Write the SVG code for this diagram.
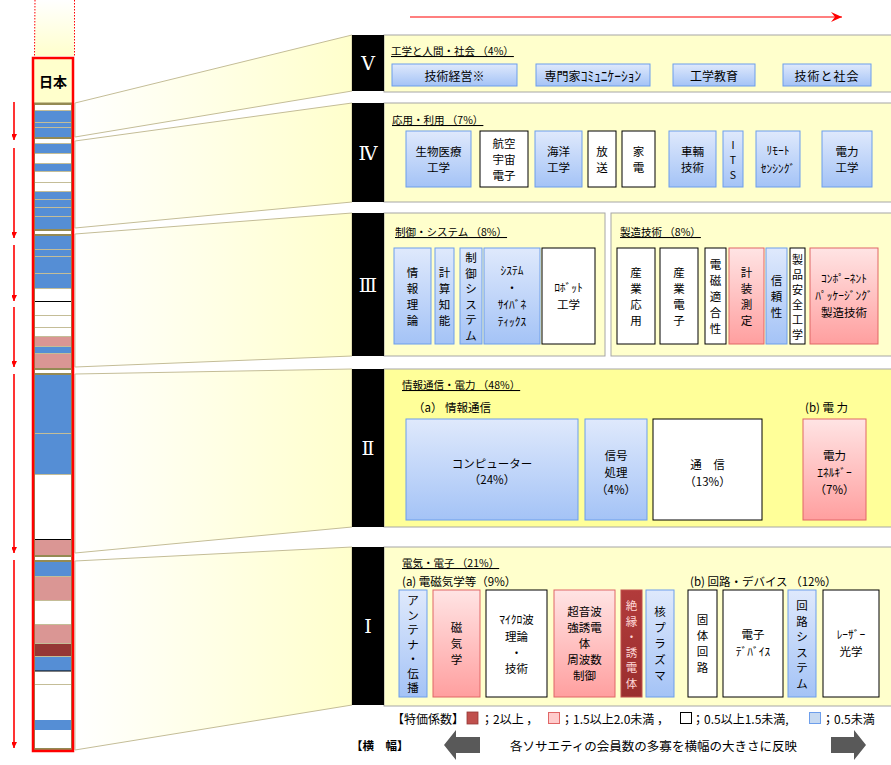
<svg xmlns="http://www.w3.org/2000/svg" width="891" height="765" viewBox="0 0 891 765">
<style>
.t{font-family:"Noto Sans CJK JP","Noto Sans CJK SC",sans-serif;font-size:11.5px;fill:#000}
.c{text-anchor:middle;dominant-baseline:central}
.m{dominant-baseline:central}
.h{font-size:11.5px}
.ttl{font-size:10.5px;text-decoration:underline}
.bb{fill:url(#gBlue);stroke:#6d9eeb;stroke-width:1}
.bp{fill:url(#gPink);stroke:#e06666;stroke-width:1}
.bw{fill:#fff;stroke:#000;stroke-width:1}
.br{fill:url(#gRed);stroke:#c0504d;stroke-width:1}
.panel{fill:#ffffcc;stroke:#a6a6a6;stroke-width:1}
.panel2{fill:#ffff99;stroke:#a6a6a6;stroke-width:1}
.blk{fill:#000}
.rn{fill:#fff;font-family:"DejaVu Serif","Noto Sans CJK JP",serif;font-size:19px;text-anchor:middle;dominant-baseline:central}
.trap{fill:url(#gTrap);stroke:#c4bd97;stroke-width:1}
.arr{stroke:#ff0000;stroke-width:1.6;fill:none;marker-end:url(#ah)}
.sb{fill:#558ed5}
.sp{fill:#da9694}
.sr{fill:#953735}
.lt{stroke:#c4bd97;stroke-width:1.2}
.lo{stroke:#948a54;stroke-width:2}
.lk{stroke:#000;stroke-width:1}
.gar{fill:#595959}
</style>
<defs>
<linearGradient id="gBlue" x1="0" y1="0" x2="0" y2="1"><stop offset="0" stop-color="#dfe9fc"/><stop offset="1" stop-color="#a4c3f6"/></linearGradient>
<linearGradient id="gPink" x1="0" y1="0" x2="0" y2="1"><stop offset="0" stop-color="#ffe4e4"/><stop offset="1" stop-color="#ff9f9f"/></linearGradient>
<linearGradient id="gRed" x1="0" y1="0" x2="0" y2="1"><stop offset="0" stop-color="#b23b3b"/><stop offset="1" stop-color="#9a2e2e"/></linearGradient>
<linearGradient id="gTrap" x1="0" y1="0" x2="1" y2="0"><stop offset="0" stop-color="#ffffff"/><stop offset="1" stop-color="#ffffcc"/></linearGradient>
<linearGradient id="gTop" x1="0" y1="0" x2="0" y2="1"><stop offset="0" stop-color="#ffffff"/><stop offset="1" stop-color="#ffffcc"/></linearGradient>
<marker id="ah" viewBox="-6 -10 12 12" markerWidth="12" markerHeight="12" refX="0" refY="0" orient="auto" markerUnits="userSpaceOnUse"><path d="M-10,-5 L0,0 L-10,5 L-6,0 z" fill="#ff0000"/></marker>
<marker id="ah2" viewBox="-12 -6 13 12" markerWidth="13" markerHeight="12" refX="0" refY="0" orient="auto" markerUnits="userSpaceOnUse"><path d="M-11,-5 L0,0 L-11,5 L-7,0 z" fill="#ff0000"/></marker>
</defs>
<rect width="891" height="765" fill="#fff"/>

<!-- top arrow -->
<line x1="410" y1="17" x2="842" y2="17" stroke="#ff0000" stroke-width="1.2" marker-end="url(#ah2)"/>

<!-- top dotted band -->
<rect x="35" y="0" width="39" height="56" fill="url(#gTop)"/>
<line x1="35" y1="0" x2="34.5" y2="56" stroke="#ff0000" stroke-width="1" stroke-dasharray="1.5,1.5"/>
<line x1="74.5" y1="0" x2="74.5" y2="56" stroke="#ff0000" stroke-width="1" stroke-dasharray="1.5,1.5"/>

<g id="connectors">
<polygon class="trap" points="75,103 352,35 352,91 75,137"/>
<polygon class="trap" points="75,141 352,103 352,202 75,228"/>
<polygon class="trap" points="75,234 352,213 352,356 75,367"/>
<polygon class="trap" points="75,374 352,369 352,527 75,553"/>
<polygon class="trap" points="75,561 352,547 352,705 75,750"/>
<line class="arr" x1="14" y1="102" x2="14" y2="140"/>
<line class="arr" x1="14" y1="148" x2="14" y2="238"/>
<line class="arr" x1="14" y1="245" x2="14" y2="301"/>
<line class="arr" x1="14" y1="307" x2="14" y2="367"/>
<line class="arr" x1="14" y1="374" x2="14" y2="553"/>
<line class="arr" x1="14" y1="560" x2="14" y2="748"/>
</g>

<!-- left column -->
<g id="japan-column">
<rect x="34" y="58" width="38" height="45" fill="#ffffcc"/>
<text class="t c" x="53" y="81" style="font-size:14px;font-weight:bold">日本</text>
<rect x="34" y="103" width="38" height="647" fill="#fff"/>
<rect class="sb" x="34" y="111" width="38" height="26"/>
<rect class="sb" x="34" y="144" width="38" height="10"/>
<rect class="sb" x="34" y="164" width="38" height="8"/>
<rect class="sb" x="34" y="192" width="38" height="37"/>
<rect class="sb" x="34" y="236" width="38" height="53"/>
<rect class="sp" x="34" y="337" width="38" height="10"/>
<rect class="sb" x="34" y="347" width="38" height="7"/>
<rect class="sp" x="34" y="354" width="38" height="14"/>
<rect class="sb" x="34" y="375" width="38" height="100"/>
<rect class="sp" x="34" y="540" width="38" height="15"/>
<rect class="sb" x="34" y="562" width="38" height="15"/>
<rect class="sp" x="34" y="577" width="38" height="24"/>
<rect class="sp" x="34" y="625" width="38" height="19"/>
<rect class="sr" x="34" y="644" width="38" height="13"/>
<rect class="sb" x="34" y="657" width="38" height="14"/>
<rect class="sb" x="34" y="720" width="38" height="10"/>
<g>
<line class="lo" x1="34" y1="104" x2="72" y2="104"/>
<line class="lt" x1="34" y1="110.5" x2="72" y2="110.5"/>
<line class="lt" x1="34" y1="122.5" x2="72" y2="122.5"/>
<line class="lt" x1="34" y1="127.5" x2="72" y2="127.5"/>
<line class="lo" x1="34" y1="138" x2="72" y2="138"/>
<line class="lt" x1="34" y1="143.5" x2="72" y2="143.5"/>
<line class="lt" x1="34" y1="153.5" x2="72" y2="153.5"/>
<line class="lt" x1="34" y1="163.5" x2="72" y2="163.5"/>
<line class="lt" x1="34" y1="171.5" x2="72" y2="171.5"/>
<line class="lt" x1="34" y1="182.5" x2="72" y2="182.5"/>
<line class="lt" x1="34" y1="191.5" x2="72" y2="191.5"/>
<line class="lt" x1="34" y1="199.5" x2="72" y2="199.5"/>
<line class="lt" x1="34" y1="207.5" x2="72" y2="207.5"/>
<line class="lt" x1="34" y1="216.5" x2="72" y2="216.5"/>
<line class="lo" x1="34" y1="230" x2="72" y2="230"/>
<line class="lo" x1="34" y1="235" x2="72" y2="235"/>
<line class="lt" x1="34" y1="249.5" x2="72" y2="249.5"/>
<line class="lt" x1="34" y1="256.5" x2="72" y2="256.5"/>
<line class="lt" x1="34" y1="273.5" x2="72" y2="273.5"/>
<line class="lt" x1="34" y1="288.5" x2="72" y2="288.5"/>
<line class="lk" x1="34" y1="301.5" x2="72" y2="301.5"/>
<line class="lt" x1="34" y1="315.5" x2="72" y2="315.5"/>
<line class="lt" x1="34" y1="327.5" x2="72" y2="327.5"/>
<line class="lt" x1="34" y1="336.5" x2="72" y2="336.5"/>
<line class="lt" x1="34" y1="346.5" x2="72" y2="346.5"/>
<line class="lt" x1="34" y1="353.5" x2="72" y2="353.5"/>
<line class="lo" x1="34" y1="369" x2="72" y2="369"/>
<line class="lo" x1="34" y1="374" x2="72" y2="374"/>
<line class="lt" x1="34" y1="433.5" x2="72" y2="433.5"/>
<line class="lt" x1="34" y1="474.5" x2="72" y2="474.5"/>
<line class="lk" x1="34" y1="539.5" x2="72" y2="539.5"/>
<line class="lo" x1="34" y1="556" x2="72" y2="556"/>
<line class="lo" x1="34" y1="561" x2="72" y2="561"/>
<line class="lt" x1="34" y1="576.5" x2="72" y2="576.5"/>
<line class="lt" x1="34" y1="600.5" x2="72" y2="600.5"/>
<line class="lt" x1="34" y1="624.5" x2="72" y2="624.5"/>
<line class="lt" x1="34" y1="643.5" x2="72" y2="643.5"/>
<line class="lt" x1="34" y1="656.5" x2="72" y2="656.5"/>
<line class="lk" x1="34" y1="671" x2="72" y2="671"/>
<line class="lt" x1="34" y1="684.5" x2="72" y2="684.5"/>
<line class="lo" x1="34" y1="749" x2="72" y2="749"/>
</g>
<rect x="34.5" y="103" width="37" height="647" fill="none" stroke="#948a54" stroke-width="1"/>
<rect x="33" y="58" width="40" height="693" fill="none" stroke="#ff0000" stroke-width="2.5"/>
</g>

<!-- Section V -->
<g id="sec-V">
<rect class="panel" x="384" y="35" width="510" height="57"/>
<rect class="blk" x="352" y="35" width="32" height="56"/>
<text class="rn" x="368" y="63">V</text>
<text class="t ttl" x="391" y="55">工学と人間・社会 （4%）</text>
</g>
<g id="n-gijutsukeiei"><rect class="bb" x="392" y="64" width="125" height="22"/><text class="t c" x="454.5" y="75" style="font-size:12px">技術経営※</text></g>
<g id="n-senmonka"><rect class="bb" x="536" y="64" width="114" height="22"/><text class="t c" x="593" y="75" style="font-size:12px">専門家<tspan style="font-size:13.5px">ｺﾐｭﾆｹｰｼｮﾝ</tspan></text></g>
<g id="n-kogakukyoiku"><rect class="bb" x="673" y="64" width="82" height="22"/><text class="t c" x="714" y="75" style="font-size:12px">工学教育</text></g>
<g id="n-gijututoshakai"><rect class="bb" x="783" y="64" width="88" height="22"/><text class="t c" x="827" y="75" style="font-size:12px;letter-spacing:1px">技術と社会</text></g>

<!-- Section IV -->
<g id="sec-IV">
<rect class="panel" x="384" y="103" width="510" height="99"/>
<rect class="blk" x="352" y="103" width="32" height="99"/>
<text class="rn" x="368" y="153">Ⅳ</text>
<text class="t ttl" x="392" y="124">応用・利用 （7%）</text>
</g>
<g id="n-seibutsu"><rect class="bb" x="406" y="131" width="65" height="56"/><text class="t c" x="438.5"><tspan x="438.5" y="151">生物医療</tspan><tspan x="438.5" y="167">工学</tspan></text></g>
<g id="n-kouku"><rect class="bw" x="480" y="131" width="48" height="56"/><text class="t c" x="504"><tspan x="504" y="143">航空</tspan><tspan x="504" y="159">宇宙</tspan><tspan x="504" y="175">電子</tspan></text></g>
<g id="n-kaiyo"><rect class="bb" x="535" y="131" width="47" height="56"/><text class="t c" x="558.5"><tspan x="558.5" y="151">海洋</tspan><tspan x="558.5" y="167">工学</tspan></text></g>
<g id="n-hoso"><rect class="bw" x="588" y="131" width="28" height="56"/><text class="t c" x="602"><tspan x="602" y="151">放</tspan><tspan x="602" y="167">送</tspan></text></g>
<g id="n-kaden"><rect class="bw" x="622" y="131" width="33" height="56"/><text class="t c" x="638.5"><tspan x="638.5" y="151">家</tspan><tspan x="638.5" y="167">電</tspan></text></g>
<g id="n-sharyo"><rect class="bb" x="669" y="131" width="47" height="56"/><text class="t c" x="692.5"><tspan x="692.5" y="151">車輛</tspan><tspan x="692.5" y="167">技術</tspan></text></g>
<g id="n-its"><rect class="bb" x="723" y="131" width="20" height="56"/><text class="t c" x="733" style="font-size:10.5px"><tspan x="733" y="144">I</tspan><tspan x="733" y="159">T</tspan><tspan x="733" y="174">S</tspan></text></g>
<g id="n-remote"><rect class="bb" x="756" y="131" width="44" height="56"/><text class="t c h" x="778"><tspan x="778" y="150">ﾘﾓｰﾄ</tspan><tspan x="778" y="168">ｾﾝｼﾝｸﾞ</tspan></text></g>
<g id="n-denryokukogaku"><rect class="bb" x="822" y="131" width="50" height="56"/><text class="t c" x="847"><tspan x="847" y="151">電力</tspan><tspan x="847" y="167">工学</tspan></text></g>

<!-- Section III -->
<g id="sec-III">
<rect class="panel" x="384" y="213" width="221" height="143"/>
<rect class="panel" x="611" y="213" width="283" height="143"/>
<rect class="blk" x="352" y="213" width="32" height="143"/>
<text class="rn" x="368" y="285">Ⅲ</text>
<text class="t ttl" x="395" y="236">制御・システム （8%）</text>
<text class="t ttl" x="620" y="236">製造技術 （8%）</text>
</g>
<g id="n-johoriron"><rect class="bb" x="394" y="248" width="37" height="96"/><text class="t c" x="412.5"><tspan x="412.5" y="272">情</tspan><tspan x="412.5" y="288">報</tspan><tspan x="412.5" y="304">理</tspan><tspan x="412.5" y="320">論</tspan></text></g>
<g id="n-keisanchino"><rect class="bb" x="435" y="248" width="19" height="96"/><text class="t c" x="444.5"><tspan x="444.5" y="272">計</tspan><tspan x="444.5" y="288">算</tspan><tspan x="444.5" y="304">知</tspan><tspan x="444.5" y="320">能</tspan></text></g>
<g id="n-seigyo"><rect class="bb" x="460" y="248" width="22" height="96"/><text class="t c" x="471"><tspan x="471" y="257">制</tspan><tspan x="471" y="272.5">御</tspan><tspan x="471" y="288">シ</tspan><tspan x="471" y="303.5">ス</tspan><tspan x="471" y="319">テ</tspan><tspan x="471" y="334.5">ム</tspan></text></g>
<g id="n-cyber"><rect class="bb" x="484" y="248" width="56" height="96"/><text class="t c h" x="512"><tspan x="512" y="270">ｼｽﾃﾑ</tspan><tspan x="512" y="287">・</tspan><tspan x="512" y="304">ｻｲﾊﾞﾈ</tspan><tspan x="512" y="321">ﾃｨｯｸｽ</tspan></text></g>
<g id="n-robot"><rect class="bw" x="542" y="248" width="53" height="96"/><text class="t c" x="568.5"><tspan x="568.5" y="287">ﾛﾎﾞｯﾄ</tspan><tspan x="568.5" y="304">工学</tspan></text></g>
<g id="n-sangyoouyo"><rect class="bw" x="617" y="248" width="38" height="96"/><text class="t c" x="636"><tspan x="636" y="272">産</tspan><tspan x="636" y="288">業</tspan><tspan x="636" y="304">応</tspan><tspan x="636" y="320">用</tspan></text></g>
<g id="n-sangyodenshi"><rect class="bw" x="660" y="248" width="38" height="96"/><text class="t c" x="679"><tspan x="679" y="272">産</tspan><tspan x="679" y="288">業</tspan><tspan x="679" y="304">電</tspan><tspan x="679" y="320">子</tspan></text></g>
<g id="n-emc"><rect class="bw" x="705" y="248" width="21" height="96"/><text class="t c" x="715.5"><tspan x="715.5" y="264">電</tspan><tspan x="715.5" y="280">磁</tspan><tspan x="715.5" y="296">適</tspan><tspan x="715.5" y="312">合</tspan><tspan x="715.5" y="328">性</tspan></text></g>
<g id="n-keiso"><rect class="bp" x="729" y="248" width="35" height="96"/><text class="t c" x="746.5"><tspan x="746.5" y="272">計</tspan><tspan x="746.5" y="288">装</tspan><tspan x="746.5" y="304">測</tspan><tspan x="746.5" y="320">定</tspan></text></g>
<g id="n-shinrai"><rect class="bb" x="766" y="248" width="21" height="96"/><text class="t c" x="776.5"><tspan x="776.5" y="280">信</tspan><tspan x="776.5" y="296">頼</tspan><tspan x="776.5" y="312">性</tspan></text></g>
<g id="n-seihinanzen"><rect class="bw" x="790" y="248" width="15" height="96"/><text class="t c" x="797.5" style="font-size:11px"><tspan x="797.5" y="258.5">製</tspan><tspan x="797.5" y="273.5">品</tspan><tspan x="797.5" y="288.5">安</tspan><tspan x="797.5" y="303.5">全</tspan><tspan x="797.5" y="318.5">工</tspan><tspan x="797.5" y="333.5">学</tspan></text></g>
<g id="n-cpmt"><rect class="bp" x="810" y="248" width="68" height="96"/><text class="t c" x="844"><tspan x="844" y="278">ｺﾝﾎﾟｰﾈﾝﾄ</tspan><tspan x="844" y="295">ﾊﾟｯｹｰｼﾞﾝｸﾞ</tspan><tspan x="844" y="312">製造技術</tspan></text></g>

<!-- Section II -->
<g id="sec-II">
<rect class="panel2" x="384" y="369" width="510" height="158"/>
<rect class="blk" x="352" y="369" width="32" height="158"/>
<text class="rn" x="368" y="448">Ⅱ</text>
<text class="t ttl" x="402" y="389">情報通信・電力 （48%）</text>
<text class="t" x="413" y="412">（a） 情報通信</text>
<text class="t" x="805" y="412">(b)  電 力</text>
</g>
<g id="n-computer"><rect class="bb" x="406" y="419" width="172" height="101"/><text class="t c" x="492"><tspan x="492" y="463">コンピューター</tspan><tspan x="492" y="479">（24%）</tspan></text></g>
<g id="n-shingo"><rect class="bb" x="585" y="419" width="62" height="101"/><text class="t c" x="616"><tspan x="616" y="455">信号</tspan><tspan x="616" y="472">処理</tspan><tspan x="616" y="489">（4%）</tspan></text></g>
<g id="n-tsushin"><rect class="bw" x="653" y="419" width="109" height="101"/><text class="t c" x="707.5"><tspan x="707.5" y="464">通　信</tspan><tspan x="707.5" y="481">（13%）</tspan></text></g>
<g id="n-pe"><rect class="bp" x="803" y="419" width="63" height="101"/><text class="t c" x="834.5"><tspan x="834.5" y="455">電力</tspan><tspan x="834.5" y="472">ｴﾈﾙｷﾞｰ</tspan><tspan x="834.5" y="489">（7%）</tspan></text></g>

<!-- Section I -->
<g id="sec-I">
<rect class="panel" x="384" y="547" width="510" height="159"/>
<rect class="blk" x="352" y="547" width="32" height="158"/>
<text class="rn" x="368" y="626">Ⅰ</text>
<text class="t ttl" x="402" y="567">電気・電子 （21%）</text>
<text class="t" x="402" y="586">(a)  電磁気学等（9%）</text>
<text class="t" x="690" y="586">(b)  回路・デバイス （12%）</text>
</g>
<g id="n-antenna"><rect class="bb" x="399" y="590" width="28" height="107"/><text class="t c" x="413"><tspan x="413" y="600">ア</tspan><tspan x="413" y="614.5">ン</tspan><tspan x="413" y="629">テ</tspan><tspan x="413" y="643.5">ナ</tspan><tspan x="413" y="658">・</tspan><tspan x="413" y="672.5">伝</tspan><tspan x="413" y="687">播</tspan></text></g>
<g id="n-jiki"><rect class="bp" x="433" y="590" width="47" height="107"/><text class="t c" x="456.5"><tspan x="456.5" y="627">磁</tspan><tspan x="456.5" y="643">気</tspan><tspan x="456.5" y="659">学</tspan></text></g>
<g id="n-microwave"><rect class="bw" x="486" y="590" width="61" height="107"/><text class="t c" x="516.5"><tspan x="516.5" y="619">ﾏｲｸﾛ波</tspan><tspan x="516.5" y="636">理論</tspan><tspan x="516.5" y="652">・</tspan><tspan x="516.5" y="668">技術</tspan></text></g>
<g id="n-uffc"><rect class="bp" x="554" y="590" width="61" height="107"/><text class="t c" x="584.5"><tspan x="584.5" y="611">超音波</tspan><tspan x="584.5" y="627">強誘電</tspan><tspan x="584.5" y="643">体</tspan><tspan x="584.5" y="659">周波数</tspan><tspan x="584.5" y="675">制御</tspan></text></g>
<g id="n-dei"><rect class="br" x="621" y="590" width="21" height="107"/><text class="t c" x="631.5" style="fill:#ffd6d6"><tspan x="631.5" y="605">絶</tspan><tspan x="631.5" y="620.5">縁</tspan><tspan x="631.5" y="636">・</tspan><tspan x="631.5" y="651.5">誘</tspan><tspan x="631.5" y="667">電</tspan><tspan x="631.5" y="682.5">体</tspan></text></g>
<g id="n-nps"><rect class="bb" x="646" y="590" width="28" height="107"/><text class="t c" x="660"><tspan x="660" y="611">核</tspan><tspan x="660" y="627">プ</tspan><tspan x="660" y="643">ラ</tspan><tspan x="660" y="659">ズ</tspan><tspan x="660" y="675">マ</tspan></text></g>
<g id="n-kotai"><rect class="bw" x="688" y="590" width="29" height="107"/><text class="t c" x="702.5"><tspan x="702.5" y="619">固</tspan><tspan x="702.5" y="635">体</tspan><tspan x="702.5" y="651">回</tspan><tspan x="702.5" y="667">路</tspan></text></g>
<g id="n-device"><rect class="bw" x="723" y="590" width="60" height="107"/><text class="t c" x="753"><tspan x="753" y="634">電子</tspan><tspan x="753" y="651">ﾃﾞﾊﾞｲｽ</tspan></text></g>
<g id="n-kairo"><rect class="bb" x="788" y="590" width="28" height="107"/><text class="t c" x="802"><tspan x="802" y="605">回</tspan><tspan x="802" y="620.5">路</tspan><tspan x="802" y="636">シ</tspan><tspan x="802" y="651.5">ス</tspan><tspan x="802" y="667">テ</tspan><tspan x="802" y="682.5">ム</tspan></text></g>
<g id="n-laser"><rect class="bw" x="823" y="590" width="56" height="107"/><text class="t c" x="851"><tspan x="851" y="634">ﾚｰｻﾞｰ</tspan><tspan x="851" y="651">光学</tspan></text></g>

<!-- legend -->
<g id="legend">
<text class="t m" x="392" y="718" style="font-size:12px">【特価係数】</text>
<rect x="467" y="712" width="11" height="12" fill="#c0504d" stroke="#953735" stroke-width="0.8"/>
<text class="t m" x="481" y="718" style="font-size:12px">；2以上 ，</text>
<rect x="548.5" y="712.5" width="11" height="11" fill="#ffcccc" stroke="#e06666" stroke-width="1"/>
<text class="t m" x="561" y="718" style="font-size:12px">；1.5以上2.0未満 ，</text>
<rect x="680.5" y="712.5" width="11" height="11" fill="#fff" stroke="#000" stroke-width="1"/>
<text class="t m" x="692" y="718" style="font-size:12px">；0.5以上1.5未満,</text>
<rect x="809.5" y="712.5" width="11" height="11" fill="#c6d9f1" stroke="#6d9eeb" stroke-width="1"/>
<text class="t m" x="822" y="718" style="font-size:12px">；0.5未満</text>
<text class="t m" x="351" y="745" style="font-size:11.5px;font-weight:bold">【横　幅】</text>
<polygon class="gar" points="444,745 456,730 456,737 480,737 480,753 456,753 456,760"/>
<text class="t m" x="510" y="745" style="font-size:12.5px" textLength="287" lengthAdjust="spacingAndGlyphs">各ソサエティの会員数の多寡を横幅の大きさに反映</text>
<polygon class="gar" points="866,745 854,730 854,737 831,737 831,753 854,753 854,760"/>
</g>
</svg>
